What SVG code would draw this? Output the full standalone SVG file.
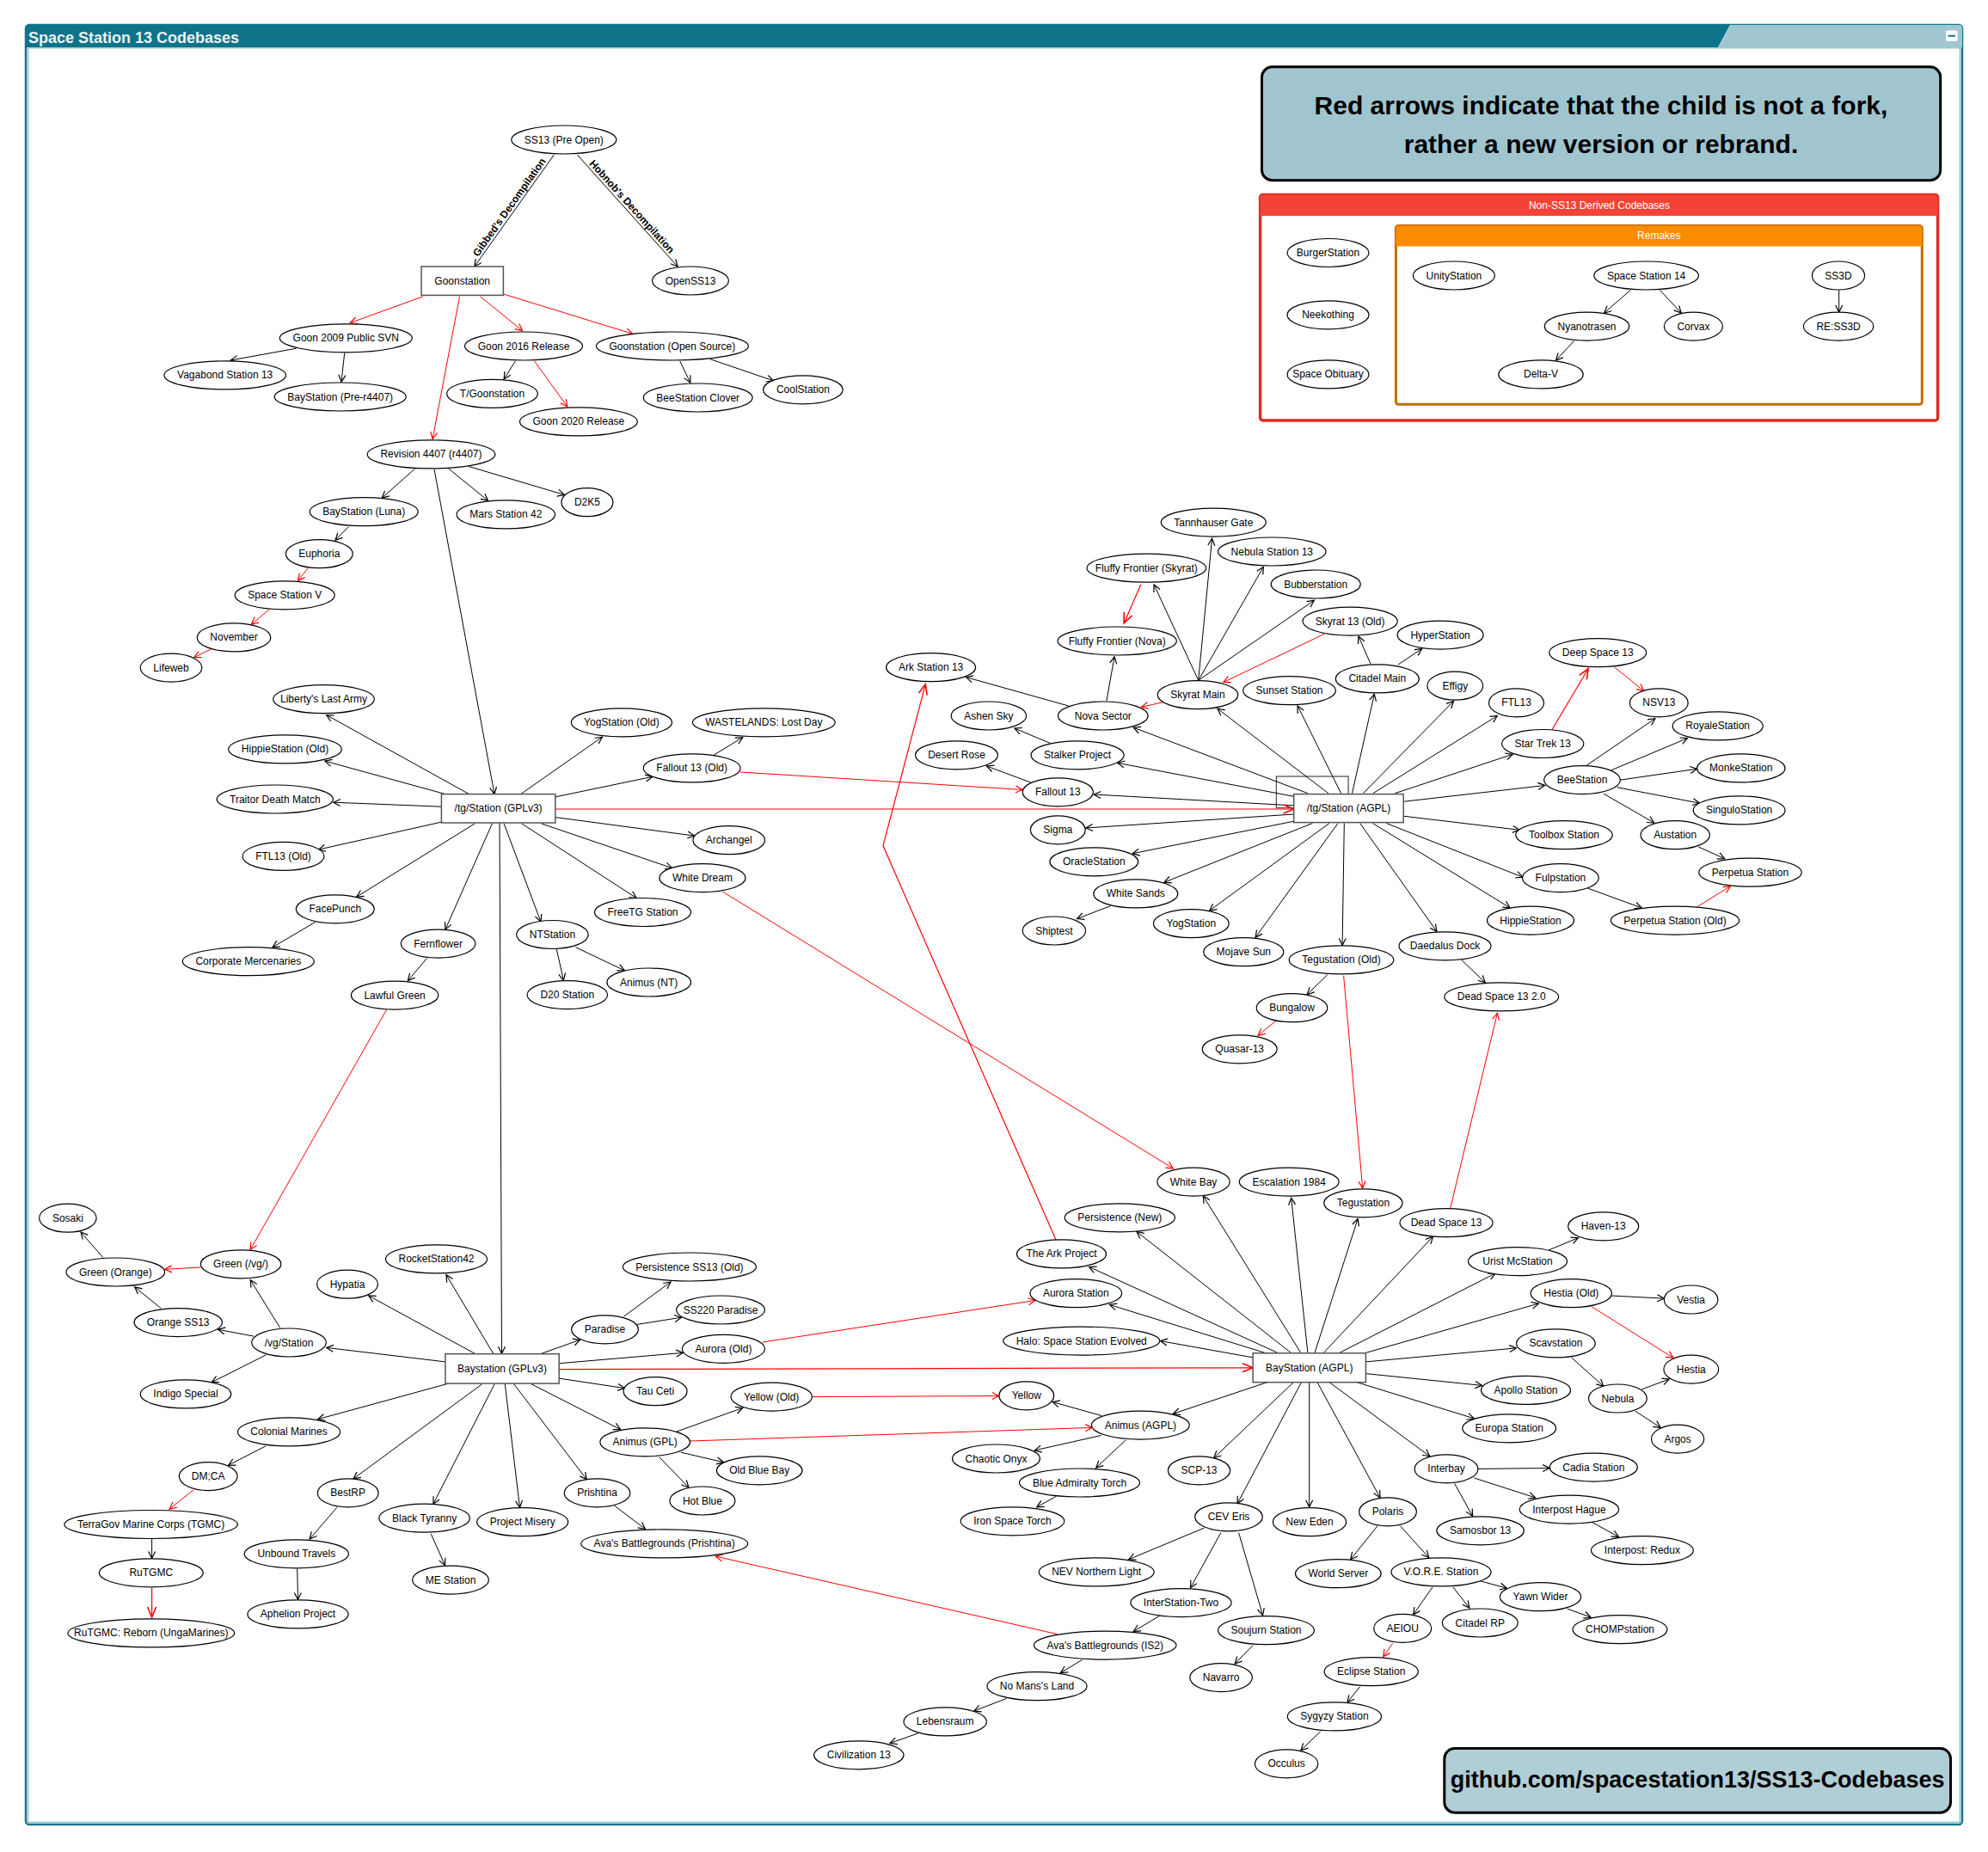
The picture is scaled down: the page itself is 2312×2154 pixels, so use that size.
<svg xmlns="http://www.w3.org/2000/svg" width="2312" height="2154" viewBox="0 0 2312 2154">
<style>
.n{fill:#fff;stroke:#000;stroke-width:1.2}
.b{fill:#fff;stroke:#555;stroke-width:1.5}
.t{font-family:"Liberation Sans",Arial,sans-serif;font-size:12px;text-anchor:middle;dominant-baseline:central;fill:#000}
.e{fill:none;stroke:#000;stroke-width:1;marker-end:url(#ab)}
.r{fill:none;stroke:#f00;stroke-width:1;marker-end:url(#ar)}
.R{fill:none;stroke:#f00;stroke-width:1.2;marker-end:url(#arb)}
.el{font-family:"Liberation Sans",Arial,sans-serif;font-size:12px;font-weight:bold;text-anchor:middle}
.lg{font-family:"Liberation Sans",Arial,sans-serif;font-size:30px;font-weight:bold;text-anchor:middle;fill:#000}
.ct{font-family:"Liberation Sans",Arial,sans-serif;font-size:12px;text-anchor:middle;fill:#fff}
</style>
<defs>
<marker id="ab" markerUnits="userSpaceOnUse" markerWidth="12" markerHeight="12" viewBox="-10 -6 12 12" refX="0" refY="0" orient="auto"><path d="M-8,-4 L0,0 L-8,4" fill="none" stroke="#000" stroke-width="1.2"/></marker>
<marker id="ar" markerUnits="userSpaceOnUse" markerWidth="12" markerHeight="12" viewBox="-10 -6 12 12" refX="0" refY="0" orient="auto"><path d="M-8,-4 L0,0 L-8,4" fill="none" stroke="#f00" stroke-width="1.2"/></marker>
<marker id="arb" markerUnits="userSpaceOnUse" markerWidth="16" markerHeight="14" viewBox="-14 -7 16 14" refX="0" refY="0" orient="auto"><path d="M-12,-5 L0,0 L-12,5" fill="none" stroke="#f00" stroke-width="1.6"/></marker>
</defs>
<rect width="2312" height="2154" fill="#fff"/>
<g id="frame">
<rect x="30" y="29" width="2252" height="2093" rx="4" fill="#fff" stroke="#17758c" stroke-width="2.5"/>
<rect x="32.5" y="55.5" width="2247" height="2064" fill="none" stroke="#9cc9d4" stroke-width="2"/>
<path d="M34,29 H2012 L1998,55 H30 V33 Q30,29 34,29 Z" fill="#0f7389"/>
<path d="M2012,29 H2278 Q2282,29 2282,33 V55 H1998 Z" fill="#a1c6d0"/>
<text x="33" y="50.4" font-family="Liberation Sans, Arial, sans-serif" font-size="18" font-weight="bold" fill="#eaf3f5">Space Station 13 Codebases</text>
<rect x="2263" y="35.5" width="13.6" height="12.5" rx="2" fill="#fff"/>
<line x1="2265.5" y1="41.7" x2="2274" y2="41.7" stroke="#0f7389" stroke-width="2"/>
</g>
<g id="legend">
<rect x="1467.5" y="77.8" width="789.2" height="131.9" rx="12" fill="#a0c5cf" stroke="#000" stroke-width="3"/>
<text x="1862" y="132.8" class="lg">Red arrows indicate that the child is not a fork,</text>
<text x="1862" y="177.7" class="lg">rather a new version or rebrand.</text>
</g>
<g id="github">
<rect x="1679.8" y="2033.5" width="588.7" height="74.7" rx="12" fill="#b0ced6" stroke="#000" stroke-width="3"/>
<text x="1974.2" y="2079.3" font-family="Liberation Sans, Arial, sans-serif" font-size="27" font-weight="bold" text-anchor="middle">github.com/spacestation13/SS13-Codebases</text>
</g>
<g id="nonss13">
<rect x="1465.6" y="226.6" width="788" height="262.4" rx="3" fill="#fff" stroke="#dd2c22" stroke-width="3.5"/>
<path d="M1468.6,226.6 H2250.6 Q2253.6,226.6 2253.6,229.6 V250.9 H1465.6 V229.6 Q1465.6,226.6 1468.6,226.6 Z" fill="#f44336"/>
<text x="1860" y="242.7" class="ct">Non-SS13 Derived Codebases</text>
</g>
<g id="remakes">
<rect x="1623.4" y="262.4" width="611.9" height="207.8" rx="3" fill="#fff" stroke="#c26c00" stroke-width="3"/>
<path d="M1626.4,262.4 H2232.3 Q2235.3,262.4 2235.3,265.4 V286.6 H1623.4 V265.4 Q1623.4,262.4 1626.4,262.4 Z" fill="#fb8c00"/>
<text x="1929.4" y="278.4" class="ct">Remakes</text>
</g>
<rect id="stray" x="1484.4" y="903" width="83.7" height="36.6" fill="none" stroke="#555" stroke-width="1.3"/>
<g id="connectors">
<path class="e" d="M644.3,180 L551.8,310"/>
<path class="e" d="M671.3,180 L788.1,310"/>
<text class="el" transform="translate(595.6,243.3) rotate(-54.7)">Gibbed's Decompilation</text>
<text class="el" transform="translate(731.9,243) rotate(48)">Hobnob's Decompilation</text>
<path class="e" d="M344.6,405.2 L268.3,419"/>
<path class="e" d="M400.7,410.7 L397,444.1"/>
<path class="e" d="M599.4,419.9 L586.1,440.9"/>
<path class="e" d="M790.7,419.9 L802.8,445.1"/>
<path class="e" d="M825.7,417.6 L899.4,442.8"/>
<path class="e" d="M482.9,544.9 L444.2,579.2"/>
<path class="e" d="M521.6,544.9 L567.6,582.4"/>
<path class="e" d="M545.5,542.6 L656.5,575.5"/>
<path class="e" d="M505,545.8 L575,923.6"/>
<path class="e" d="M405.5,612.6 L390,628.2"/>
<path class="e" d="M545.5,923.6 L379.7,831.6"/>
<path class="e" d="M517.9,923.6 L377.8,885.1"/>
<path class="e" d="M513.4,938.2 L387.8,933.2"/>
<path class="e" d="M513.4,956.1 L370.4,988.1"/>
<path class="e" d="M552.2,957.9 L414.7,1043.1"/>
<path class="e" d="M572.4,957.9 L517.9,1081.1"/>
<path class="e" d="M366.7,1072.4 L317,1101.7"/>
<path class="e" d="M496.5,1114.5 L474.4,1140.6"/>
<path class="e" d="M605.6,923.6 L700.4,857.2"/>
<path class="e" d="M646.2,926.8 L758.6,903.4"/>
<path class="e" d="M646.2,950.6 L807.6,972.1"/>
<path class="e" d="M629.6,957.9 L781.8,1009.7"/>
<path class="e" d="M606.8,957.9 L740.2,1044.5"/>
<path class="e" d="M586.1,957.9 L628.9,1071.9"/>
<path class="e" d="M647.3,1104 L655.4,1140.2"/>
<path class="e" d="M669.4,1101.7 L726.2,1128.7"/>
<path class="e" d="M829.8,878.3 L863.7,857.7"/>
<path class="e" d="M581,957 L583.5,1574.3"/>
<path class="e" d="M1242.6,821 L1123.5,787.6"/>
<path class="e" d="M1221.6,864.5 L1180,847.1"/>
<path class="e" d="M1199.5,910.3 L1147.5,891"/>
<path class="e" d="M1286.9,815 L1296.1,763.8"/>
<path class="e" d="M1393.7,791.3 L1342.1,680"/>
<path class="e" d="M1393.7,791.3 L1409.6,626.4"/>
<path class="e" d="M1393.7,791.3 L1469.3,659.3"/>
<path class="e" d="M1393.7,791.3 L1528.3,698.3"/>
<path class="e" d="M1544.9,922.7 L1415.9,824.2"/>
<path class="e" d="M1520.9,922.7 L1318.2,846.2"/>
<path class="e" d="M1504.7,926.3 L1299.8,887.4"/>
<path class="e" d="M1504.7,936.9 L1272.1,924"/>
<path class="e" d="M1504.7,947 L1262.9,963"/>
<path class="e" d="M1504.7,955.2 L1317.1,992.7"/>
<path class="e" d="M1526.4,957.5 L1353.9,1026.2"/>
<path class="e" d="M1291.6,1053.6 L1252.6,1068.6"/>
<path class="e" d="M1546,957.5 L1406.6,1059.1"/>
<path class="e" d="M1556,957.5 L1460.1,1090.3"/>
<path class="e" d="M1563.3,957.5 L1561.1,1099.4"/>
<path class="e" d="M1581.7,957.5 L1670.9,1083.4"/>
<path class="e" d="M1559.6,922.7 L1509.1,821"/>
<path class="e" d="M1572.5,922.7 L1598.3,807.3"/>
<path class="e" d="M1585.4,922.7 L1690.5,815.5"/>
<path class="e" d="M1596.8,922.7 L1741.4,832.5"/>
<path class="e" d="M1622.3,922.7 L1759.1,877.3"/>
<path class="e" d="M1632.2,932.3 L1796.7,913.5"/>
<path class="e" d="M1632.2,949.2 L1767.2,965.3"/>
<path class="e" d="M1612.3,957.5 L1770.9,1020.2"/>
<path class="e" d="M1596.5,957.5 L1756.1,1055.9"/>
<path class="e" d="M1543.8,1133.7 L1520.2,1156.6"/>
<path class="e" d="M1699.7,1116.4 L1727.3,1142.9"/>
<path class="e" d="M1593.9,772 L1579.9,740"/>
<path class="e" d="M1625.9,773 L1653.6,754.6"/>
<path class="e" d="M1844.6,890.6 L1924.9,835.7"/>
<path class="e" d="M1874.1,895.7 L1962.5,858.6"/>
<path class="e" d="M1884.4,907.1 L1973.6,894.3"/>
<path class="e" d="M1880.7,915.8 L1976.5,934.1"/>
<path class="e" d="M1864.9,923.1 L1923.8,957"/>
<path class="e" d="M1975.4,985 L2005.7,998.7"/>
<path class="e" d="M1846.4,1033 L1909.1,1055.9"/>
<path class="e" d="M119.8,1462.6 L94,1433"/>
<path class="e" d="M187.2,1521.6 L156.7,1496.9"/>
<path class="e" d="M325.8,1544.5 L291.2,1488.7"/>
<path class="e" d="M294.9,1554.1 L253.6,1546.3"/>
<path class="e" d="M309.6,1575.7 L246.2,1607.7"/>
<path class="e" d="M517.9,1583.9 L379.7,1567.4"/>
<path class="e" d="M552.9,1574.7 L428.7,1507"/>
<path class="e" d="M573.9,1574.7 L519,1482.7"/>
<path class="e" d="M521.6,1609.1 L369.7,1650.7"/>
<path class="e" d="M308.9,1681.9 L265.4,1704.3"/>
<path class="e" d="M176.6,1790 L176.6,1812.4"/>
<path class="e" d="M560.3,1610 L411,1719.9"/>
<path class="e" d="M391.8,1753.3 L360.1,1790"/>
<path class="e" d="M345.7,1824.7 L346.5,1860.5"/>
<path class="e" d="M575,1610 L503.9,1749.2"/>
<path class="e" d="M501.3,1784 L517.5,1820.6"/>
<path class="e" d="M629.6,1574.3 L674.6,1558.3"/>
<path class="e" d="M725.4,1531.2 L780,1491"/>
<path class="e" d="M741.3,1540.4 L792.5,1532.2"/>
<path class="e" d="M650.2,1585.7 L794.4,1573.4"/>
<path class="e" d="M650.2,1603.1 L726.5,1614.6"/>
<path class="e" d="M616.7,1609.1 L721.7,1662.6"/>
<path class="e" d="M597.2,1609.1 L682.3,1720.8"/>
<path class="e" d="M587.2,1609.1 L604.5,1753.3"/>
<path class="e" d="M787,1665 L863.7,1637.5"/>
<path class="e" d="M791.8,1689.2 L841.5,1700.7"/>
<path class="e" d="M766.7,1694.7 L801,1730"/>
<path class="e" d="M714.4,1751 L750.5,1778.5"/>
<path class="e" d="M1068.2,2015.7 L1035,2027.6"/>
<path class="e" d="M1170.7,1975.4 L1132.7,1990"/>
<path class="e" d="M1485.9,1573.4 L1266.6,1473.5"/>
<path class="e" d="M1471.1,1573.4 L1290.5,1517.5"/>
<path class="e" d="M1457.1,1578.9 L1349.5,1559.6"/>
<path class="e" d="M1501.4,1573.4 L1322,1432.5"/>
<path class="e" d="M1512.8,1573.4 L1399.3,1391"/>
<path class="e" d="M1520.9,1573.4 L1501.7,1393.4"/>
<path class="e" d="M1529,1573.4 L1579.1,1417.6"/>
<path class="e" d="M1539.3,1573.4 L1666.5,1438.3"/>
<path class="e" d="M1557.8,1573.4 L1739,1481"/>
<path class="e" d="M1588.4,1573.4 L1789.3,1516.1"/>
<path class="e" d="M1588.4,1583.9 L1763.5,1567.9"/>
<path class="e" d="M1588.4,1597.6 L1723.6,1611.4"/>
<path class="e" d="M1578,1607.7 L1714.4,1649.8"/>
<path class="e" d="M1546,1607.7 L1662.8,1693.8"/>
<path class="e" d="M1532,1607.7 L1605,1741.9"/>
<path class="e" d="M1522.7,1607.7 L1522.7,1752.8"/>
<path class="e" d="M1513.5,1607.7 L1439.1,1748.7"/>
<path class="e" d="M1504.3,1607.7 L1411.8,1695.6"/>
<path class="e" d="M1473.7,1607.7 L1364.3,1644.3"/>
<path class="e" d="M1281.3,1646.6 L1224.2,1630.6"/>
<path class="e" d="M1280.6,1669.5 L1203.2,1686.9"/>
<path class="e" d="M1309,1675 L1274.7,1707.1"/>
<path class="e" d="M1227.9,1740.5 L1205.8,1752.8"/>
<path class="e" d="M1400.4,1777.1 L1312.7,1813.7"/>
<path class="e" d="M1419.9,1782.6 L1384.5,1846.7"/>
<path class="e" d="M1440.6,1782.6 L1468.6,1878.8"/>
<path class="e" d="M1348.8,1879.2 L1318.2,1897.5"/>
<path class="e" d="M1258.5,1930.5 L1233.4,1945.6"/>
<path class="e" d="M1457.1,1913.6 L1436.1,1935.1"/>
<path class="e" d="M1602,1774.8 L1570.7,1813.7"/>
<path class="e" d="M1628.5,1774.8 L1661.7,1811.5"/>
<path class="e" d="M1666.1,1845.8 L1643.6,1877.9"/>
<path class="e" d="M1689.7,1845.8 L1708.9,1870.1"/>
<path class="e" d="M1721.8,1838.9 L1752.4,1847.2"/>
<path class="e" d="M1581.7,1961.6 L1567,1980"/>
<path class="e" d="M1535.7,2013.8 L1512.8,2035.8"/>
<path class="e" d="M1718.8,1708.4 L1802.2,1707.5"/>
<path class="e" d="M1714.4,1719 L1785.6,1741.9"/>
<path class="e" d="M1691.6,1725.4 L1712.6,1763.4"/>
<path class="e" d="M1800.3,1454.3 L1835.4,1439.7"/>
<path class="e" d="M1874.4,1507 L1935.3,1510.2"/>
<path class="e" d="M1828,1579.3 L1864.9,1612.3"/>
<path class="e" d="M1909.1,1616 L1941.2,1604"/>
<path class="e" d="M1901.7,1641.1 L1931.2,1660.4"/>
<path class="e" d="M1851.2,1770.2 L1882.5,1787.6"/>
<path class="e" d="M1822.5,1871 L1850.1,1881"/>
<path class="e" d="M1896.2,337.5 L1865.6,364"/>
<path class="e" d="M1930.5,337.5 L1955.2,364"/>
<path class="e" d="M1830.6,396.5 L1809.6,419"/>
<path class="e" d="M2138.7,337.5 L2138.7,363.1"/>
<path class="r" d="M492,344.8 L407.3,375.5"/>
<path class="r" d="M534.5,344.8 L503.1,510.5"/>
<path class="r" d="M558.4,344.8 L607.5,384.6"/>
<path class="r" d="M585.4,342 L735.8,388.3"/>
<path class="r" d="M621.5,419.9 L659.8,473"/>
<path class="r" d="M358.3,660.7 L346.5,675.4"/>
<path class="r" d="M313.3,708.8 L292.3,726.2"/>
<path class="r" d="M245.9,754.6 L225.6,764.7"/>
<path class="r" d="M449.7,1174 L291.2,1453.4"/>
<path class="r" d="M233.3,1474 L191.7,1476.3"/>
<path class="r" d="M225.2,1732.7 L197.2,1755.1"/>
<path class="R" d="M176.6,1846.7 L176.6,1881"/>
<path class="r" d="M861,898 L1189.2,918.5"/>
<path class="R" d="M645.8,941 L1504.7,941"/>
<path class="r" d="M840.4,1037.1 L1364.3,1359"/>
<path class="R" d="M1228,1442 L1027,983.6 L1076.3,795.8"/>
<path class="R" d="M1326.7,680 L1307.1,724.9"/>
<path class="r" d="M1540.4,737.2 L1422.9,793.5"/>
<path class="r" d="M1353.6,816.4 L1327.4,822.4"/>
<path class="r" d="M1484,1187.3 L1463,1204.3"/>
<path class="r" d="M1562.6,1134.7 L1584.7,1381.9"/>
<path class="r" d="M1686.8,1404.8 L1741.4,1178.2"/>
<path class="R" d="M1805.1,848.5 L1847.2,777.5"/>
<path class="r" d="M1877.8,776.1 L1911.7,803.6"/>
<path class="r" d="M1974.3,1054.5 L2012.3,1030.7"/>
<path class="r" d="M886.9,1561 L1203.9,1512.5"/>
<path class="R" d="M650.2,1592.6 L1457.1,1590.8"/>
<path class="r" d="M944.4,1624.6 L1161.9,1623.5"/>
<path class="r" d="M802.5,1676 L1270.3,1660.4"/>
<path class="r" d="M1229.7,1900.7 L832.3,1810.1"/>
<path class="r" d="M1619.7,1911.3 L1608.6,1926.8"/>
<path class="r" d="M1851.2,1519.8 L1946,1579.3"/>
</g>
<g id="ss13pre"><ellipse class="n" cx="655.8" cy="162.5" rx="61" ry="16.5"/><text class="t" x="655.8" y="162.5">SS13 (Pre Open)</text></g>
<g id="goonstation"><rect class="b" x="490" y="310" width="95.4" height="33.4"/><text class="t" x="537.7" y="326.7">Goonstation</text></g>
<g id="openss13"><ellipse class="n" cx="803" cy="326.5" rx="44.4" ry="16.5"/><text class="t" x="803" y="326.5">OpenSS13</text></g>
<g id="goon2009"><ellipse class="n" cx="402.3" cy="393.3" rx="77" ry="16.5"/><text class="t" x="402.3" y="393.3">Goon 2009 Public SVN</text></g>
<g id="goon2016"><ellipse class="n" cx="609" cy="402.5" rx="68.5" ry="16.5"/><text class="t" x="609" y="402.5">Goon 2016 Release</text></g>
<g id="goonos"><ellipse class="n" cx="781.9" cy="402.5" rx="88.5" ry="16.5"/><text class="t" x="781.9" y="402.5">Goonstation (Open Source)</text></g>
<g id="vagabond"><ellipse class="n" cx="261.7" cy="436.4" rx="70.8" ry="16.5"/><text class="t" x="261.7" y="436.4">Vagabond Station 13</text></g>
<g id="baypre"><ellipse class="n" cx="395.7" cy="461.5" rx="76.5" ry="16.5"/><text class="t" x="395.7" y="461.5">BayStation (Pre-r4407)</text></g>
<g id="tgoon"><ellipse class="n" cx="572.5" cy="457.9" rx="52.8" ry="16.5"/><text class="t" x="572.5" y="457.9">T/Goonstation</text></g>
<g id="goon2020"><ellipse class="n" cx="672.9" cy="490.4" rx="68.4" ry="16.5"/><text class="t" x="672.9" y="490.4">Goon 2020 Release</text></g>
<g id="beeclover"><ellipse class="n" cx="811.7" cy="462.5" rx="63.4" ry="16.5"/><text class="t" x="811.7" y="462.5">BeeStation Clover</text></g>
<g id="coolstation"><ellipse class="n" cx="933.9" cy="453.3" rx="46.3" ry="16.5"/><text class="t" x="933.9" y="453.3">CoolStation</text></g>
<g id="r4407"><ellipse class="n" cx="501.5" cy="528.4" rx="74.3" ry="16.5"/><text class="t" x="501.5" y="528.4">Revision 4407 (r4407)</text></g>
<g id="d2k5"><ellipse class="n" cx="682.9" cy="584.2" rx="30" ry="16.5"/><text class="t" x="682.9" y="584.2">D2K5</text></g>
<g id="mars42"><ellipse class="n" cx="588.3" cy="598.4" rx="57.2" ry="16.5"/><text class="t" x="588.3" y="598.4">Mars Station 42</text></g>
<g id="bayluna"><ellipse class="n" cx="423.2" cy="595.2" rx="63" ry="16.5"/><text class="t" x="423.2" y="595.2">BayStation (Luna)</text></g>
<g id="euphoria"><ellipse class="n" cx="371.3" cy="644.2" rx="38.9" ry="16.5"/><text class="t" x="371.3" y="644.2">Euphoria</text></g>
<g id="ssv"><ellipse class="n" cx="331.2" cy="692.3" rx="58" ry="16.5"/><text class="t" x="331.2" y="692.3">Space Station V</text></g>
<g id="november"><ellipse class="n" cx="272" cy="741.4" rx="42.8" ry="16.5"/><text class="t" x="272" y="741.4">November</text></g>
<g id="lifeweb"><ellipse class="n" cx="199" cy="776.6" rx="35.8" ry="16.5"/><text class="t" x="199" y="776.6">Lifeweb</text></g>
<g id="tggpl"><rect class="b" x="513.4" y="923.6" width="132.4" height="33.4"/><text class="t" x="579.6" y="940.3">/tg/Station (GPLv3)</text></g>
<g id="liberty"><ellipse class="n" cx="376.5" cy="813.2" rx="58.8" ry="16.5"/><text class="t" x="376.5" y="813.2">Liberty's Last Army</text></g>
<g id="hippieold"><ellipse class="n" cx="331.5" cy="871.4" rx="65.8" ry="16.5"/><text class="t" x="331.5" y="871.4">HippieStation (Old)</text></g>
<g id="traitor"><ellipse class="n" cx="319.8" cy="929.5" rx="67.6" ry="16.5"/><text class="t" x="319.8" y="929.5">Traitor Death Match</text></g>
<g id="ftl13old"><ellipse class="n" cx="329.5" cy="995.9" rx="47.5" ry="16.5"/><text class="t" x="329.5" y="995.9">FTL13 (Old)</text></g>
<g id="facepunch"><ellipse class="n" cx="389.8" cy="1057.3" rx="45.5" ry="16.5"/><text class="t" x="389.8" y="1057.3">FacePunch</text></g>
<g id="corpmerc"><ellipse class="n" cx="288.8" cy="1118.2" rx="76.5" ry="16.5"/><text class="t" x="288.8" y="1118.2">Corporate Mercenaries</text></g>
<g id="fernflower"><ellipse class="n" cx="509.6" cy="1097.6" rx="43.3" ry="16.5"/><text class="t" x="509.6" y="1097.6">Fernflower</text></g>
<g id="lawfulgreen"><ellipse class="n" cx="459.1" cy="1157.6" rx="50.7" ry="16.5"/><text class="t" x="459.1" y="1157.6">Lawful Green</text></g>
<g id="yogold"><ellipse class="n" cx="722.9" cy="840.3" rx="58.6" ry="16.5"/><text class="t" x="722.9" y="840.3">YogStation (Old)</text></g>
<g id="wastelands"><ellipse class="n" cx="888.3" cy="840.3" rx="82.9" ry="16.5"/><text class="t" x="888.3" y="840.3">WASTELANDS: Lost Day</text></g>
<g id="fallout13old"><ellipse class="n" cx="804.7" cy="893.4" rx="56.4" ry="16.5"/><text class="t" x="804.7" y="893.4">Fallout 13 (Old)</text></g>
<g id="archangel"><ellipse class="n" cx="847.7" cy="977.2" rx="41.8" ry="16.5"/><text class="t" x="847.7" y="977.2">Archangel</text></g>
<g id="whitedream"><ellipse class="n" cx="816.9" cy="1021.1" rx="50.1" ry="16.5"/><text class="t" x="816.9" y="1021.1">White Dream</text></g>
<g id="freetg"><ellipse class="n" cx="747.5" cy="1061" rx="56" ry="16.5"/><text class="t" x="747.5" y="1061">FreeTG Station</text></g>
<g id="ntstation"><ellipse class="n" cx="642.4" cy="1087" rx="41.8" ry="16.5"/><text class="t" x="642.4" y="1087">NTStation</text></g>
<g id="animusnt"><ellipse class="n" cx="754.7" cy="1142.5" rx="48.8" ry="16.5"/><text class="t" x="754.7" y="1142.5">Animus (NT)</text></g>
<g id="d20"><ellipse class="n" cx="659.8" cy="1157.1" rx="46.8" ry="16.5"/><text class="t" x="659.8" y="1157.1">D20 Station</text></g>
<g id="arkstation"><ellipse class="n" cx="1082.6" cy="776.2" rx="52" ry="16.5"/><text class="t" x="1082.6" y="776.2">Ark Station 13</text></g>
<g id="ashensky"><ellipse class="n" cx="1149.9" cy="832.5" rx="43.7" ry="16.5"/><text class="t" x="1149.9" y="832.5">Ashen Sky</text></g>
<g id="desertrose"><ellipse class="n" cx="1112.5" cy="878.3" rx="48" ry="16.5"/><text class="t" x="1112.5" y="878.3">Desert Rose</text></g>
<g id="tannhauser"><ellipse class="n" cx="1411.3" cy="607.6" rx="61" ry="16.5"/><text class="t" x="1411.3" y="607.6">Tannhauser Gate</text></g>
<g id="nebula13"><ellipse class="n" cx="1479.3" cy="641.5" rx="62.7" ry="16.5"/><text class="t" x="1479.3" y="641.5">Nebula Station 13</text></g>
<g id="fluffyskyrat"><ellipse class="n" cx="1333.3" cy="660.7" rx="69.3" ry="16.5"/><text class="t" x="1333.3" y="660.7">Fluffy Frontier (Skyrat)</text></g>
<g id="bubber"><ellipse class="n" cx="1530.2" cy="679.5" rx="52" ry="16.5"/><text class="t" x="1530.2" y="679.5">Bubberstation</text></g>
<g id="fluffynova"><ellipse class="n" cx="1299.2" cy="745.5" rx="69.1" ry="16.5"/><text class="t" x="1299.2" y="745.5">Fluffy Frontier (Nova)</text></g>
<g id="skyratold"><ellipse class="n" cx="1570.1" cy="722.6" rx="55.1" ry="16.5"/><text class="t" x="1570.1" y="722.6">Skyrat 13 (Old)</text></g>
<g id="hyper"><ellipse class="n" cx="1675.1" cy="738.6" rx="50" ry="16.5"/><text class="t" x="1675.1" y="738.6">HyperStation</text></g>
<g id="skyratmain"><ellipse class="n" cx="1393" cy="808.2" rx="46.8" ry="16.5"/><text class="t" x="1393" y="808.2">Skyrat Main</text></g>
<g id="sunset"><ellipse class="n" cx="1499.5" cy="803.2" rx="53.8" ry="16.5"/><text class="t" x="1499.5" y="803.2">Sunset Station</text></g>
<g id="citadelmain"><ellipse class="n" cx="1601.8" cy="789.4" rx="48.5" ry="16.5"/><text class="t" x="1601.8" y="789.4">Citadel Main</text></g>
<g id="effigy"><ellipse class="n" cx="1692.3" cy="797.7" rx="32.4" ry="16.5"/><text class="t" x="1692.3" y="797.7">Effigy</text></g>
<g id="novasector"><ellipse class="n" cx="1282.8" cy="832.5" rx="52.3" ry="16.5"/><text class="t" x="1282.8" y="832.5">Nova Sector</text></g>
<g id="stalker"><ellipse class="n" cx="1253.1" cy="878.3" rx="54" ry="16.5"/><text class="t" x="1253.1" y="878.3">Stalker Project</text></g>
<g id="fallout13"><ellipse class="n" cx="1230.3" cy="921.3" rx="41.1" ry="16.5"/><text class="t" x="1230.3" y="921.3">Fallout 13</text></g>
<g id="tgagpl"><rect class="b" x="1504.7" y="923.6" width="127.5" height="33"/><text class="t" x="1568.5" y="940.1">/tg/Station (AGPL)</text></g>
<g id="sigma"><ellipse class="n" cx="1230.3" cy="965.3" rx="31.9" ry="16.5"/><text class="t" x="1230.3" y="965.3">Sigma</text></g>
<g id="oracle"><ellipse class="n" cx="1272.3" cy="1002.3" rx="51.4" ry="16.5"/><text class="t" x="1272.3" y="1002.3">OracleStation</text></g>
<g id="whitesands"><ellipse class="n" cx="1320.8" cy="1039.4" rx="49" ry="16.5"/><text class="t" x="1320.8" y="1039.4">White Sands</text></g>
<g id="shiptest"><ellipse class="n" cx="1225.9" cy="1082.5" rx="36.7" ry="16.5"/><text class="t" x="1225.9" y="1082.5">Shiptest</text></g>
<g id="yogstation"><ellipse class="n" cx="1385.3" cy="1074.2" rx="43.9" ry="16.5"/><text class="t" x="1385.3" y="1074.2">YogStation</text></g>
<g id="mojave"><ellipse class="n" cx="1446.3" cy="1107.2" rx="46.6" ry="16.5"/><text class="t" x="1446.3" y="1107.2">Mojave Sun</text></g>
<g id="teguold"><ellipse class="n" cx="1560" cy="1116.4" rx="60.8" ry="16.5"/><text class="t" x="1560" y="1116.4">Tegustation (Old)</text></g>
<g id="daedalus"><ellipse class="n" cx="1680.5" cy="1100.3" rx="53.5" ry="16.5"/><text class="t" x="1680.5" y="1100.3">Daedalus Dock</text></g>
<g id="ds13v2"><ellipse class="n" cx="1746.2" cy="1159.4" rx="66.4" ry="16.5"/><text class="t" x="1746.2" y="1159.4">Dead Space 13 2.0</text></g>
<g id="bungalow"><ellipse class="n" cx="1502.5" cy="1172.2" rx="41.3" ry="16.5"/><text class="t" x="1502.5" y="1172.2">Bungalow</text></g>
<g id="quasar"><ellipse class="n" cx="1441.7" cy="1220.3" rx="43.5" ry="16.5"/><text class="t" x="1441.7" y="1220.3">Quasar-13</text></g>
<g id="deepspace"><ellipse class="n" cx="1858.2" cy="759.2" rx="56.4" ry="16.5"/><text class="t" x="1858.2" y="759.2">Deep Space 13</text></g>
<g id="ftl13"><ellipse class="n" cx="1763.5" cy="817.4" rx="32" ry="16.5"/><text class="t" x="1763.5" y="817.4">FTL13</text></g>
<g id="nsv13"><ellipse class="n" cx="1929.3" cy="817.4" rx="33.9" ry="16.5"/><text class="t" x="1929.3" y="817.4">NSV13</text></g>
<g id="royale"><ellipse class="n" cx="1997.7" cy="844.4" rx="52.5" ry="16.5"/><text class="t" x="1997.7" y="844.4">RoyaleStation</text></g>
<g id="startrek"><ellipse class="n" cx="1794.2" cy="865" rx="47.7" ry="16.5"/><text class="t" x="1794.2" y="865">Star Trek 13</text></g>
<g id="beestation"><ellipse class="n" cx="1840" cy="907.1" rx="44.4" ry="16.5"/><text class="t" x="1840" y="907.1">BeeStation</text></g>
<g id="monke"><ellipse class="n" cx="2024.8" cy="893.4" rx="51.2" ry="16.5"/><text class="t" x="2024.8" y="893.4">MonkeStation</text></g>
<g id="singulo"><ellipse class="n" cx="2022.6" cy="942.4" rx="53.4" ry="16.5"/><text class="t" x="2022.6" y="942.4">SinguloStation</text></g>
<g id="toolbox"><ellipse class="n" cx="1819" cy="971.2" rx="56.2" ry="16.5"/><text class="t" x="1819" y="971.2">Toolbox Station</text></g>
<g id="austation"><ellipse class="n" cx="1948.2" cy="971.2" rx="40.2" ry="16.5"/><text class="t" x="1948.2" y="971.2">Austation</text></g>
<g id="perpetua"><ellipse class="n" cx="2035.5" cy="1014.7" rx="59.7" ry="16.5"/><text class="t" x="2035.5" y="1014.7">Perpetua Station</text></g>
<g id="fulp"><ellipse class="n" cx="1814.9" cy="1021.1" rx="44.4" ry="16.5"/><text class="t" x="1814.9" y="1021.1">Fulpstation</text></g>
<g id="hippie"><ellipse class="n" cx="1780" cy="1070.6" rx="50.5" ry="16.5"/><text class="t" x="1780" y="1070.6">HippieStation</text></g>
<g id="perpetuaold"><ellipse class="n" cx="1948" cy="1070.6" rx="74.7" ry="16.5"/><text class="t" x="1948" y="1070.6">Perpetua Station (Old)</text></g>
<g id="sosaki"><ellipse class="n" cx="78.9" cy="1416.7" rx="33.2" ry="16.5"/><text class="t" x="78.9" y="1416.7">Sosaki</text></g>
<g id="greenorange"><ellipse class="n" cx="134.3" cy="1479.5" rx="57.3" ry="16.5"/><text class="t" x="134.3" y="1479.5">Green (Orange)</text></g>
<g id="greenvg"><ellipse class="n" cx="280.1" cy="1470.3" rx="46.8" ry="16.5"/><text class="t" x="280.1" y="1470.3">Green (/vg/)</text></g>
<g id="orangess13"><ellipse class="n" cx="207.2" cy="1538.1" rx="51.2" ry="16.5"/><text class="t" x="207.2" y="1538.1">Orange SS13</text></g>
<g id="vgstation"><ellipse class="n" cx="336" cy="1561.5" rx="43.3" ry="16.5"/><text class="t" x="336" y="1561.5">/vg/Station</text></g>
<g id="indigo"><ellipse class="n" cx="216" cy="1621.4" rx="52.7" ry="16.5"/><text class="t" x="216" y="1621.4">Indigo Special</text></g>
<g id="hypatia"><ellipse class="n" cx="404" cy="1493.7" rx="35.4" ry="16.5"/><text class="t" x="404" y="1493.7">Hypatia</text></g>
<g id="rocket42"><ellipse class="n" cx="507.5" cy="1464.4" rx="59" ry="16.5"/><text class="t" x="507.5" y="1464.4">RocketStation42</text></g>
<g id="baygpl"><rect class="b" x="517.9" y="1574.7" width="132.3" height="34.4"/><text class="t" x="584" y="1591.9">Baystation (GPLv3)</text></g>
<g id="colonial"><ellipse class="n" cx="336" cy="1665.4" rx="59.5" ry="16.5"/><text class="t" x="336" y="1665.4">Colonial Marines</text></g>
<g id="dmca"><ellipse class="n" cx="242.2" cy="1717.1" rx="33.9" ry="16.5"/><text class="t" x="242.2" y="1717.1">DM;CA</text></g>
<g id="tgmc"><ellipse class="n" cx="175.6" cy="1773" rx="100.8" ry="16.5"/><text class="t" x="175.6" y="1773">TerraGov Marine Corps (TGMC)</text></g>
<g id="rutgmc"><ellipse class="n" cx="175.8" cy="1829.3" rx="60.4" ry="16.5"/><text class="t" x="175.8" y="1829.3">RuTGMC</text></g>
<g id="reborn"><ellipse class="n" cx="175.8" cy="1899.4" rx="96.9" ry="16.5"/><text class="t" x="175.8" y="1899.4">RuTGMC: Reborn (UngaMarines)</text></g>
<g id="bestrp"><ellipse class="n" cx="404.7" cy="1736.4" rx="35.4" ry="16.5"/><text class="t" x="404.7" y="1736.4">BestRP</text></g>
<g id="unbound"><ellipse class="n" cx="344.8" cy="1807.3" rx="60.6" ry="16.5"/><text class="t" x="344.8" y="1807.3">Unbound Travels</text></g>
<g id="aphelion"><ellipse class="n" cx="346.5" cy="1877.4" rx="58.6" ry="16.5"/><text class="t" x="346.5" y="1877.4">Aphelion Project</text></g>
<g id="blacktyranny"><ellipse class="n" cx="493.6" cy="1765.7" rx="52.7" ry="16.5"/><text class="t" x="493.6" y="1765.7">Black Tyranny</text></g>
<g id="mestation"><ellipse class="n" cx="524" cy="1837.6" rx="44.4" ry="16.5"/><text class="t" x="524" y="1837.6">ME Station</text></g>
<g id="misery"><ellipse class="n" cx="607.7" cy="1770.2" rx="53" ry="16.5"/><text class="t" x="607.7" y="1770.2">Project Misery</text></g>
<g id="persold"><ellipse class="n" cx="801.9" cy="1473.5" rx="77.6" ry="16.5"/><text class="t" x="801.9" y="1473.5">Persistence SS13 (Old)</text></g>
<g id="ss220"><ellipse class="n" cx="838" cy="1523.5" rx="51.4" ry="16.5"/><text class="t" x="838" y="1523.5">SS220 Paradise</text></g>
<g id="paradise"><ellipse class="n" cx="703.5" cy="1546.3" rx="38.9" ry="16.5"/><text class="t" x="703.5" y="1546.3">Paradise</text></g>
<g id="auroraold"><ellipse class="n" cx="841.4" cy="1568.8" rx="48.1" ry="16.5"/><text class="t" x="841.4" y="1568.8">Aurora (Old)</text></g>
<g id="tauceti"><ellipse class="n" cx="762.1" cy="1618.2" rx="37" ry="16.5"/><text class="t" x="762.1" y="1618.2">Tau Ceti</text></g>
<g id="yellowold"><ellipse class="n" cx="897.2" cy="1624.6" rx="47.2" ry="16.5"/><text class="t" x="897.2" y="1624.6">Yellow (Old)</text></g>
<g id="animusgpl"><ellipse class="n" cx="750.2" cy="1677.3" rx="52.3" ry="16.5"/><text class="t" x="750.2" y="1677.3">Animus (GPL)</text></g>
<g id="oldbluebay"><ellipse class="n" cx="883.2" cy="1710.3" rx="49.8" ry="16.5"/><text class="t" x="883.2" y="1710.3">Old Blue Bay</text></g>
<g id="hotblue"><ellipse class="n" cx="816.9" cy="1745.5" rx="38" ry="16.5"/><text class="t" x="816.9" y="1745.5">Hot Blue</text></g>
<g id="prishtina"><ellipse class="n" cx="694.5" cy="1736.4" rx="38.3" ry="16.5"/><text class="t" x="694.5" y="1736.4">Prishtina</text></g>
<g id="avaprish"><ellipse class="n" cx="772.7" cy="1795.4" rx="97" ry="16.5"/><text class="t" x="772.7" y="1795.4">Ava's Battlegrounds (Prishtina)</text></g>
<g id="lebensraum"><ellipse class="n" cx="1099.2" cy="2002.4" rx="48.3" ry="16.5"/><text class="t" x="1099.2" y="2002.4">Lebensraum</text></g>
<g id="civ13"><ellipse class="n" cx="998.8" cy="2041.3" rx="52.2" ry="16.5"/><text class="t" x="998.8" y="2041.3">Civilization 13</text></g>
<g id="whitebay"><ellipse class="n" cx="1388" cy="1374.6" rx="42.2" ry="16.5"/><text class="t" x="1388" y="1374.6">White Bay</text></g>
<g id="escalation"><ellipse class="n" cx="1499.2" cy="1374.6" rx="57.9" ry="16.5"/><text class="t" x="1499.2" y="1374.6">Escalation 1984</text></g>
<g id="tegustation"><ellipse class="n" cx="1585.4" cy="1399.3" rx="45.7" ry="16.5"/><text class="t" x="1585.4" y="1399.3">Tegustation</text></g>
<g id="ds13"><ellipse class="n" cx="1682" cy="1422.2" rx="54" ry="16.5"/><text class="t" x="1682" y="1422.2">Dead Space 13</text></g>
<g id="persnew"><ellipse class="n" cx="1302.3" cy="1416.3" rx="64.1" ry="16.5"/><text class="t" x="1302.3" y="1416.3">Persistence (New)</text></g>
<g id="arkproject"><ellipse class="n" cx="1234.5" cy="1458.4" rx="52" ry="16.5"/><text class="t" x="1234.5" y="1458.4">The Ark Project</text></g>
<g id="aurorastation"><ellipse class="n" cx="1251.3" cy="1504.2" rx="53.3" ry="16.5"/><text class="t" x="1251.3" y="1504.2">Aurora Station</text></g>
<g id="halo"><ellipse class="n" cx="1257.7" cy="1559.6" rx="91" ry="16.5"/><text class="t" x="1257.7" y="1559.6">Halo: Space Station Evolved</text></g>
<g id="bayagpl"><rect class="b" x="1457.1" y="1573.8" width="131.3" height="33.9"/><text class="t" x="1522.7" y="1590.7">BayStation (AGPL)</text></g>
<g id="yellow"><ellipse class="n" cx="1193.8" cy="1623.3" rx="31.9" ry="16.5"/><text class="t" x="1193.8" y="1623.3">Yellow</text></g>
<g id="animusagpl"><ellipse class="n" cx="1326.4" cy="1657.6" rx="56.9" ry="16.5"/><text class="t" x="1326.4" y="1657.6">Animus (AGPL)</text></g>
<g id="chaotic"><ellipse class="n" cx="1158.5" cy="1696.5" rx="50.9" ry="16.5"/><text class="t" x="1158.5" y="1696.5">Chaotic Onyx</text></g>
<g id="blueadm"><ellipse class="n" cx="1255.5" cy="1724.5" rx="70" ry="16.5"/><text class="t" x="1255.5" y="1724.5">Blue Admiralty Torch</text></g>
<g id="iron"><ellipse class="n" cx="1177.5" cy="1769.3" rx="60.3" ry="16.5"/><text class="t" x="1177.5" y="1769.3">Iron Space Torch</text></g>
<g id="scp13"><ellipse class="n" cx="1394.5" cy="1710.3" rx="36.1" ry="16.5"/><text class="t" x="1394.5" y="1710.3">SCP-13</text></g>
<g id="ceveris"><ellipse class="n" cx="1429" cy="1764.3" rx="39.3" ry="16.5"/><text class="t" x="1429" y="1764.3">CEV Eris</text></g>
<g id="neweden"><ellipse class="n" cx="1523" cy="1770.2" rx="42.6" ry="16.5"/><text class="t" x="1523" y="1770.2">New Eden</text></g>
<g id="polaris"><ellipse class="n" cx="1614" cy="1758.3" rx="33.4" ry="16.5"/><text class="t" x="1614" y="1758.3">Polaris</text></g>
<g id="interbay"><ellipse class="n" cx="1682" cy="1708.4" rx="36.9" ry="16.5"/><text class="t" x="1682" y="1708.4">Interbay</text></g>
<g id="samosbor"><ellipse class="n" cx="1721.6" cy="1780.3" rx="50.7" ry="16.5"/><text class="t" x="1721.6" y="1780.3">Samosbor 13</text></g>
<g id="nev"><ellipse class="n" cx="1275.2" cy="1828.4" rx="66.9" ry="16.5"/><text class="t" x="1275.2" y="1828.4">NEV Northern Light</text></g>
<g id="worldserver"><ellipse class="n" cx="1556.3" cy="1830.2" rx="49.8" ry="16.5"/><text class="t" x="1556.3" y="1830.2">World Server</text></g>
<g id="vore"><ellipse class="n" cx="1676" cy="1828.4" rx="58" ry="16.5"/><text class="t" x="1676" y="1828.4">V.O.R.E. Station</text></g>
<g id="interstation"><ellipse class="n" cx="1373.5" cy="1864.1" rx="58.6" ry="16.5"/><text class="t" x="1373.5" y="1864.1">InterStation-Two</text></g>
<g id="soujurn"><ellipse class="n" cx="1472.5" cy="1896.2" rx="55.9" ry="16.5"/><text class="t" x="1472.5" y="1896.2">Soujurn Station</text></g>
<g id="aeiou"><ellipse class="n" cx="1631.2" cy="1893.9" rx="33.5" ry="16.5"/><text class="t" x="1631.2" y="1893.9">AEIOU</text></g>
<g id="citadelrp"><ellipse class="n" cx="1721.3" cy="1887.5" rx="44" ry="16.5"/><text class="t" x="1721.3" y="1887.5">Citadel RP</text></g>
<g id="avais2"><ellipse class="n" cx="1285.2" cy="1913.6" rx="82.8" ry="16.5"/><text class="t" x="1285.2" y="1913.6">Ava's Battlegrounds (IS2)</text></g>
<g id="navarro"><ellipse class="n" cx="1420.1" cy="1951.1" rx="36.3" ry="16.5"/><text class="t" x="1420.1" y="1951.1">Navarro</text></g>
<g id="eclipse"><ellipse class="n" cx="1594.7" cy="1944.2" rx="54.6" ry="16.5"/><text class="t" x="1594.7" y="1944.2">Eclipse Station</text></g>
<g id="nomans"><ellipse class="n" cx="1206" cy="1961.2" rx="58" ry="16.5"/><text class="t" x="1206" y="1961.2">No Mans's Land</text></g>
<g id="sygyzy"><ellipse class="n" cx="1551.9" cy="1996.4" rx="54.6" ry="16.5"/><text class="t" x="1551.9" y="1996.4">Sygyzy Station</text></g>
<g id="occulus"><ellipse class="n" cx="1496.1" cy="2051.4" rx="36.7" ry="16.5"/><text class="t" x="1496.1" y="2051.4">Occulus</text></g>
<g id="urist"><ellipse class="n" cx="1765" cy="1467.1" rx="57.5" ry="16.5"/><text class="t" x="1765" y="1467.1">Urist McStation</text></g>
<g id="haven"><ellipse class="n" cx="1864.7" cy="1426.3" rx="41.1" ry="16.5"/><text class="t" x="1864.7" y="1426.3">Haven-13</text></g>
<g id="hestiaold"><ellipse class="n" cx="1827.3" cy="1504.2" rx="47.2" ry="16.5"/><text class="t" x="1827.3" y="1504.2">Hestia (Old)</text></g>
<g id="vestia"><ellipse class="n" cx="1966.6" cy="1511.5" rx="31.3" ry="16.5"/><text class="t" x="1966.6" y="1511.5">Vestia</text></g>
<g id="scav"><ellipse class="n" cx="1809.4" cy="1562.4" rx="45.9" ry="16.5"/><text class="t" x="1809.4" y="1562.4">Scavstation</text></g>
<g id="hestia"><ellipse class="n" cx="1966.8" cy="1592.6" rx="31.9" ry="16.5"/><text class="t" x="1966.8" y="1592.6">Hestia</text></g>
<g id="apollo"><ellipse class="n" cx="1774.5" cy="1616.9" rx="52" ry="16.5"/><text class="t" x="1774.5" y="1616.9">Apollo Station</text></g>
<g id="nebula"><ellipse class="n" cx="1881.4" cy="1626.5" rx="33.9" ry="16.5"/><text class="t" x="1881.4" y="1626.5">Nebula</text></g>
<g id="europa"><ellipse class="n" cx="1755.2" cy="1661.3" rx="54.4" ry="16.5"/><text class="t" x="1755.2" y="1661.3">Europa Station</text></g>
<g id="argos"><ellipse class="n" cx="1951.1" cy="1673.6" rx="30.6" ry="16.5"/><text class="t" x="1951.1" y="1673.6">Argos</text></g>
<g id="cadia"><ellipse class="n" cx="1853.3" cy="1706.6" rx="51" ry="16.5"/><text class="t" x="1853.3" y="1706.6">Cadia Station</text></g>
<g id="hague"><ellipse class="n" cx="1824.9" cy="1755.6" rx="57.7" ry="16.5"/><text class="t" x="1824.9" y="1755.6">Interpost Hague</text></g>
<g id="redux"><ellipse class="n" cx="1909.9" cy="1803.2" rx="59.4" ry="16.5"/><text class="t" x="1909.9" y="1803.2">Interpost: Redux</text></g>
<g id="yawn"><ellipse class="n" cx="1791.5" cy="1857.2" rx="47.2" ry="16.5"/><text class="t" x="1791.5" y="1857.2">Yawn Wider</text></g>
<g id="chomp"><ellipse class="n" cx="1884" cy="1895.2" rx="54.9" ry="16.5"/><text class="t" x="1884" y="1895.2">CHOMPstation</text></g>
<g id="burger"><ellipse class="n" cx="1544.5" cy="294" rx="47.5" ry="16.5"/><text class="t" x="1544.5" y="294">BurgerStation</text></g>
<g id="neeko"><ellipse class="n" cx="1544.5" cy="366.3" rx="47.5" ry="16.5"/><text class="t" x="1544.5" y="366.3">Neekothing</text></g>
<g id="obituary"><ellipse class="n" cx="1544.5" cy="435.4" rx="47.5" ry="16.5"/><text class="t" x="1544.5" y="435.4">Space Obituary</text></g>
<g id="unity"><ellipse class="n" cx="1690.9" cy="320.5" rx="47.5" ry="16.5"/><text class="t" x="1690.9" y="320.5">UnityStation</text></g>
<g id="ss14"><ellipse class="n" cx="1914.6" cy="320.5" rx="60.8" ry="16.5"/><text class="t" x="1914.6" y="320.5">Space Station 14</text></g>
<g id="nyano"><ellipse class="n" cx="1845.5" cy="379.6" rx="49.2" ry="16.5"/><text class="t" x="1845.5" y="379.6">Nyanotrasen</text></g>
<g id="corvax"><ellipse class="n" cx="1969.4" cy="379.6" rx="34" ry="16.5"/><text class="t" x="1969.4" y="379.6">Corvax</text></g>
<g id="deltav"><ellipse class="n" cx="1792" cy="435.4" rx="49.2" ry="16.5"/><text class="t" x="1792" y="435.4">Delta-V</text></g>
<g id="ss3d"><ellipse class="n" cx="2138" cy="320.5" rx="30.6" ry="16.5"/><text class="t" x="2138" y="320.5">SS3D</text></g>
<g id="ress3d"><ellipse class="n" cx="2138.1" cy="379.6" rx="40.7" ry="16.5"/><text class="t" x="2138.1" y="379.6">RE:SS3D</text></g>
</svg>
